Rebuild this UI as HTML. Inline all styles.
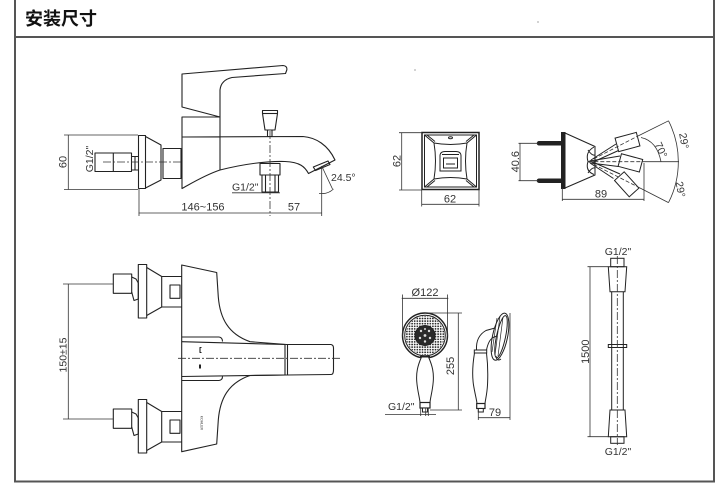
<!DOCTYPE html>
<html><head><meta charset="utf-8">
<style>
html,body{margin:0;padding:0;background:#fff;}
svg{display:block;}
text{font-family:"Liberation Sans",Arial,sans-serif;fill:#333;font-size:11px;}
</style></head>
<body>
<svg width="727" height="488" viewBox="0 0 727 488" xmlns="http://www.w3.org/2000/svg">
<defs>
<pattern id="dots" width="2.6" height="2.6" patternUnits="userSpaceOnUse">
<circle cx="1.3" cy="1.3" r="0.9" fill="#222"/>
</pattern>
</defs>
<rect width="727" height="488" fill="#fff"/>

<!-- frame -->
<g stroke="#555" stroke-width="2" fill="none">
<line x1="15" y1="0" x2="15" y2="482.5"/>
<line x1="714" y1="0" x2="714" y2="482.5"/>
<line x1="14" y1="37" x2="715" y2="37"/>
<line x1="14" y1="481.5" x2="715" y2="481.5"/>
</g>
<text x="25" y="25" style="font-family:'Liberation Sans','Noto Sans CJK SC',sans-serif;font-size:18px;font-weight:bold;fill:#111">安装尺寸</text>
<circle cx="538" cy="22" r="0.6" fill="#666"/>
<circle cx="415" cy="70" r="0.6" fill="#666"/>

<!-- ============ TOP-LEFT: faucet side view ============ -->
<g fill="none" stroke="#222" stroke-width="1.1" stroke-linejoin="round">
<path fill="none" d="M182,74 L283,65.5 Q287.5,66 286.8,70 L285.5,73.5 L232,77.5 Q221,80 220,90 L220,117 L182,107 Z"/>
<rect x="182" y="117" width="38" height="20"/>
<path fill="none" d="M182,137 L303,136.5 C316,137.5 328,145 335,160 L308.5,173.5 C305,167 300,162 285,161.5 C262,161 240,165 220,170 C205,175 192,183 182,188.5 Z"/>
<line x1="220" y1="137" x2="220" y2="170"/>
<path fill="none" d="M313.3,167 L328,161 L330,164.5 L315.5,170.5 Z"/>
<rect x="138.5" y="135.5" width="7" height="53"/>
<path fill="none" d="M145.5,136.5 L161,145 L161,180 L145.5,188"/>
<rect x="163" y="148.5" width="18" height="30"/>
<rect x="95" y="153" width="36.5" height="18.5"/>
<line x1="113.3" y1="153" x2="113.3" y2="171.5"/>
<path fill="none" d="M131.5,156.5 L138.5,156.5 M131.5,170 L138.5,170 M135,156.5 L135,170"/>
<path fill="none" d="M262.5,110.5 L277.5,110.5 L277.5,113.5 L275,130 L265,130 L262.5,113.5 Z"/>
<line x1="262.5" y1="113.5" x2="277.5" y2="113.5"/>
<rect x="267.5" y="130" width="4.5" height="6.5"/>
<rect x="260" y="163.5" width="20" height="11.5"/>
<rect x="262" y="175" width="16.5" height="17"/>
<line x1="265.5" y1="175" x2="265.5" y2="192"/>
<line x1="275" y1="175" x2="275" y2="192"/>
</g>
<g fill="none" stroke="#333" stroke-width="0.8">
<line x1="68.3" y1="135" x2="68.3" y2="189.5"/>
<line x1="64" y1="135" x2="138" y2="135"/>
<line x1="64" y1="189.5" x2="138" y2="189.5"/>
<line x1="139" y1="188" x2="139" y2="216"/>
<line x1="321.7" y1="166" x2="321.7" y2="216"/>
<line x1="138.5" y1="213" x2="321.7" y2="213"/>
<line x1="232" y1="192.8" x2="280" y2="192.8"/>
<line x1="321.7" y1="166" x2="332.5" y2="189"/>
<path fill="none" d="M319,193.5 L322,193.5 Q328,194 333.5,189"/>
<line x1="270" y1="131" x2="270" y2="216" stroke-dasharray="8,2,2,2"/>
<line x1="103" y1="162" x2="182" y2="162" stroke-dasharray="8,2,2,2"/>
</g>
<text transform="translate(66.5,162) rotate(-90)" text-anchor="middle">60</text>
<text transform="translate(93,159) rotate(-90)" text-anchor="middle" style="font-size:10.5px">G1/2"</text>
<text x="203" y="210.5" text-anchor="middle">146~156</text>
<text x="294" y="210.5" text-anchor="middle">57</text>
<text x="232" y="190.5" style="font-size:10.5px">G1/2"</text>
<text x="331" y="181" style="font-size:10.5px">24.5°</text>

<!-- ============ TOP-RIGHT: square plate ============ -->
<g fill="none" stroke="#222" stroke-width="1">
<rect x="422" y="132.5" width="57" height="57" stroke-width="1.5"/>
<rect x="424.5" y="135" width="52" height="52"/>
<path fill="none" d="M424.5,135 L434,143 M476.5,135 L467,143 M424.5,187 L434,179 M476.5,187 L467,179"/>
<path fill="none" d="M427,135 L435,141.5 M474,135 L466,141.5 M427,187 L435,180.5 M474,187 L466,180.5"/>
<path fill="none" d="M434,143 Q450.5,146 467,143 Q464,161 467,179 Q450.5,176 434,179 Q437,161 434,143 Z"/>
<path fill="none" d="M440,171 L440,156 Q440,151.5 445,151.5 L456,151.5 Q461,151.5 461,156 L461,171 Z"/>
<path fill="none" d="M442,154.5 L459,154.5"/>
<rect x="443.5" y="158" width="14" height="10"/>
<line x1="446" y1="164" x2="455" y2="164"/>
<ellipse cx="450.5" cy="137.7" rx="2" ry="1"/>
</g>
<g fill="none" stroke="#333" stroke-width="0.8">
<line x1="401.7" y1="132.7" x2="401.7" y2="190"/>
<line x1="399" y1="132.7" x2="422" y2="132.7"/>
<line x1="399" y1="190" x2="422" y2="190"/>
<line x1="421.7" y1="190" x2="421.7" y2="206.5"/>
<line x1="479" y1="190" x2="479" y2="206.5"/>
<line x1="421.7" y1="204.3" x2="479" y2="204.3"/>
</g>
<text transform="translate(400.5,161) rotate(-90)" text-anchor="middle">62</text>
<text x="450" y="202.5" text-anchor="middle">62</text>

<!-- ============ TOP-RIGHT: side view w/ nozzles ============ -->
<g fill="none" stroke="#222" stroke-width="1">
<rect x="561.5" y="132.5" width="3.5" height="56" fill="#222"/>
<path fill="none" d="M565,133 L595,146.5 L595,175 L565,188"/>
<path fill="none" d="M594,147 Q585,152 588,161.5 Q585,171 594,174.5"/>
<path fill="none" d="M588,150 Q592,156 595,155 M588,173 Q592,167 595,168"/>
<line x1="539" y1="143.3" x2="561.5" y2="143.3" stroke-width="4.5" stroke-linecap="round"/>
<line x1="539" y1="180.7" x2="561.5" y2="180.7" stroke-width="4.5" stroke-linecap="round"/>
<rect x="-11" y="-7" width="22" height="14" transform="translate(627.5,142) rotate(-15)"/>
<rect x="-11" y="-6.5" width="22" height="13" transform="translate(630.4,162.9) rotate(15)"/>
<rect x="-11" y="-6.5" width="22" height="13" transform="translate(626.7,184.3) rotate(48)"/>
<path fill="none" d="M591,160 L616,144 M592,162.5 L618.5,150.5"/>
<path fill="none" d="M590,161 L620,156 M590,163 L618.5,166.5"/>
<path fill="none" d="M590,163 L613.5,178.5 M591.5,161.5 L620,174"/>
</g>
<g fill="none" stroke="#333" stroke-width="0.8">
<path fill="none" d="M588.3,161.7 L638,136" stroke-dasharray="4,2"/>
<path fill="none" d="M638,136 L668.5,120.8"/>
<path fill="none" d="M588.3,161.7 L643,161.7" stroke-dasharray="4,2"/>
<path fill="none" d="M643,161.7 L679,161.7"/>
<path fill="none" d="M588.3,161.7 L640,188" stroke-dasharray="4,2"/>
<path fill="none" d="M640,188 L668.5,202.6"/>
<path fill="none" d="M668.5,120.8 A90,90 0 0 1 668.5,202.6"/>
<path fill="none" d="M641,137.5 Q657,141 661,161.7"/>
<line x1="520" y1="143.3" x2="520" y2="180.7"/>
<line x1="518.5" y1="143.3" x2="538" y2="143.3"/>
<line x1="518.5" y1="180.7" x2="538" y2="180.7"/>
<line x1="562.3" y1="188" x2="562.3" y2="201"/>
<line x1="644" y1="163" x2="644" y2="201"/>
<line x1="562.3" y1="199.3" x2="644" y2="199.3"/>
</g>
<text transform="translate(519,161.7) rotate(-90)" text-anchor="middle">40.6</text>
<text x="601" y="197.5" text-anchor="middle">89</text>
<text transform="translate(680.5,141.5) rotate(80)" text-anchor="middle" style="font-size:10.5px">29°</text>
<text transform="translate(677,190) rotate(80)" text-anchor="middle" style="font-size:10.5px">29°</text>
<text transform="translate(657.8,151.5) rotate(65)" text-anchor="middle" style="font-size:10.5px">70°</text>

<!-- ============ BOTTOM-LEFT: faucet top view ============ -->
<g fill="none" stroke="#222" stroke-width="1.1" stroke-linejoin="round">
<path fill="none" d="M181.7,265 L216.7,272.5 L218.3,297 C220,318 228,334 250,341.7 L286.7,344.5 L331,344.5 Q333.5,345 333.5,348 L333.5,370 Q333.5,374.5 331,374.5 L286.7,375 L250,375.5 C228,383 220,399 218.3,420 L216.7,444 L181.7,451.7 Z"/>
<path fill="none" d="M181.7,337 L219,337 Q222.5,337.5 222.5,341.5"/>
<path fill="none" d="M181.7,341.7 L285,344.5 L285,375 L181.7,376.5"/>
<line x1="287.5" y1="344.5" x2="287.5" y2="375"/>
<path fill="none" d="M181.7,380.5 L219,380.5 Q222.5,380 222.5,376.5"/>
<path fill="none" d="M201.5,347.5 L200,347.5 L200,352.5 L201.5,352.5"/>
<g id="esc">
<rect x="138.3" y="264.5" width="8.4" height="53.5" fill="none"/>
<path fill="none" d="M146.7,267.5 L161.7,276.5 L161.7,307 L146.7,315.5"/>
<path fill="none" d="M161.7,276.5 L181.7,276.5 M161.7,307 L181.7,307"/>
<rect x="170" y="285" width="10" height="13.3" fill="none"/>
<rect x="113.3" y="274" width="18.4" height="19.3" fill="none"/>
<path fill="none" d="M131.7,277 L136,279 L138.3,283 L138.3,299 L134,300.5 L131.7,292"/>
</g>
<use href="#esc" transform="translate(0,135)"/>
</g>
<rect x="199" y="364.5" width="2" height="4" fill="#222"/>
<text transform="translate(200.5,423) rotate(90)" text-anchor="middle" style="font-size:3.5px;fill:#444">KOHLER</text>
<g fill="none" stroke="#333" stroke-width="0.8">
<line x1="178" y1="358.3" x2="340" y2="358.3" stroke-dasharray="8,2,2,2"/>
<line x1="68.3" y1="284" x2="68.3" y2="419"/>
<line x1="63" y1="284" x2="113" y2="284"/>
<line x1="63" y1="419" x2="113" y2="419"/>
</g>
<text transform="translate(66.5,355) rotate(-90)" text-anchor="middle" style="font-size:10.5px">150±15</text>

<!-- ============ shower head front ============ -->
<circle cx="425" cy="335.5" r="19.5" fill="url(#dots)"/>
<circle cx="425" cy="335.5" r="22.5" stroke="#222" stroke-width="1.4" fill="none"/>
<circle cx="425" cy="335.5" r="20.3" stroke="#222" stroke-width="1" fill="none"/>
<circle cx="425" cy="335.5" r="10" fill="#2a2a2a" stroke="#222"/>
<path d="M421.5,357 C417.5,366 416,373 416.8,382 C417.5,391 419.5,397 420,402.5 L430,402.5 C430.5,397 432.5,391 433.2,382 C434,373 432.5,366 428.5,357 Z" fill="#ffffff" stroke="#222" stroke-width="1"/>
<line x1="420" y1="356.5" x2="430" y2="356.5" stroke="#222" stroke-width="1"/>
<rect x="420" y="402.5" width="10" height="5.5" stroke="#222" stroke-width="1.2" fill="#ffffff"/>
<rect x="422.5" y="408" width="5" height="4" stroke="#222" stroke-width="1" fill="#ffffff"/>
<g fill="#ddd">
<circle cx="425" cy="335.5" r="1.4"/>
<circle cx="421" cy="331" r="1.2"/><circle cx="429" cy="331" r="1.2"/>
<circle cx="420" cy="338" r="1.2"/><circle cx="430" cy="338" r="1.2"/>
<circle cx="425" cy="341.5" r="1.2"/><circle cx="425" cy="329" r="1"/>
</g>
<g fill="none" stroke="#333" stroke-width="0.8">
<line x1="401.7" y1="298.3" x2="448.3" y2="298.3"/>
<line x1="402.5" y1="294.5" x2="402.5" y2="336"/>
<line x1="447.5" y1="294.5" x2="447.5" y2="336"/>
<line x1="425" y1="313" x2="462" y2="313"/>
<line x1="430" y1="410" x2="462" y2="410"/>
<line x1="458.3" y1="313" x2="458.3" y2="410"/>
<line x1="385" y1="414.5" x2="436" y2="414.5"/>
<line x1="420.7" y1="408" x2="420.7" y2="416"/>
<line x1="425.7" y1="408" x2="425.7" y2="416"/>
<line x1="428.3" y1="408" x2="428.3" y2="416"/>
</g>
<text x="425" y="296" text-anchor="middle">Ø122</text>
<text transform="translate(454,366) rotate(-90)" text-anchor="middle">255</text>
<text x="388" y="410" style="font-size:10.5px">G1/2"</text>

<!-- ============ shower head side ============ -->
<path d="M474.5,353 C472.5,365 472,375 473.5,385 C475,394 476.5,399 477,403.5 L485,403.5 C485.5,399 487,394 487.5,385 C488,375 488,365 486.5,353 Z" fill="#ffffff" stroke="#222" stroke-width="1"/>
<g fill="none" stroke="#222" stroke-width="1">
<rect x="474.3" y="350" width="12.4" height="3" fill="#ffffff"/>
<path fill="none" d="M476.5,350 C476,342 478,335 486,330.5 L495,328"/>
<path fill="none" d="M486.5,350 C487.5,345 489,340 493,337.5 L497,336"/>
<ellipse cx="500" cy="336.7" rx="7.5" ry="24" transform="rotate(12 500 336.7)" fill="none"/>
<ellipse cx="501" cy="336.7" rx="4.5" ry="21.5" transform="rotate(12 501 336.7)" fill="none"/>
<path fill="none" d="M497,318 L492,352 M500,316 L495,355 M503,317 L498,356" stroke-width="0.7"/>
<path fill="none" d="M496,356 Q497,362 501,359"/>
<rect x="476.7" y="403.5" width="8.3" height="5" stroke-width="1.2" fill="#ffffff"/>
<rect x="478.3" y="408.5" width="5" height="3.5" fill="#ffffff"/>
</g>
<g fill="none" stroke="#333" stroke-width="0.8">
<line x1="478.3" y1="417.7" x2="510" y2="417.7"/>
<line x1="478.3" y1="410" x2="478.3" y2="420"/>
<line x1="510" y1="313" x2="510" y2="420"/>
</g>
<text x="495" y="416" text-anchor="middle">79</text>

<!-- ============ hose ============ -->
<g fill="none" stroke="#222" stroke-width="1">
<rect x="610.7" y="258.3" width="13.3" height="8.4" fill="none"/>
<path fill="none" d="M608.3,266.7 L626.7,266.7 L625,291.7 L610,291.7 Z"/>
<line x1="611.7" y1="291.7" x2="611.7" y2="410"/>
<line x1="623.3" y1="291.7" x2="623.3" y2="410"/>
<rect x="608.3" y="344.5" width="18.4" height="3" fill="none"/>
<path fill="none" d="M610,410 L625,410 L626.7,436.7 L608.3,436.7 Z"/>
<rect x="610.7" y="436.7" width="13.3" height="6.6" fill="none"/>
</g>
<g fill="none" stroke="#333" stroke-width="0.8">
<line x1="617.3" y1="256" x2="617.3" y2="445" stroke-dasharray="8,2,2,2"/>
<line x1="590" y1="266.7" x2="590" y2="436.7"/>
<line x1="587.5" y1="266.7" x2="608.3" y2="266.7"/>
<line x1="587.5" y1="436.7" x2="608.3" y2="436.7"/>
</g>
<text x="618" y="255" text-anchor="middle" style="font-size:10.5px">G1/2"</text>
<text x="618" y="455" text-anchor="middle" style="font-size:10.5px">G1/2"</text>
<text transform="translate(589,351.7) rotate(-90)" text-anchor="middle">1500</text>
</svg>
</body></html>
